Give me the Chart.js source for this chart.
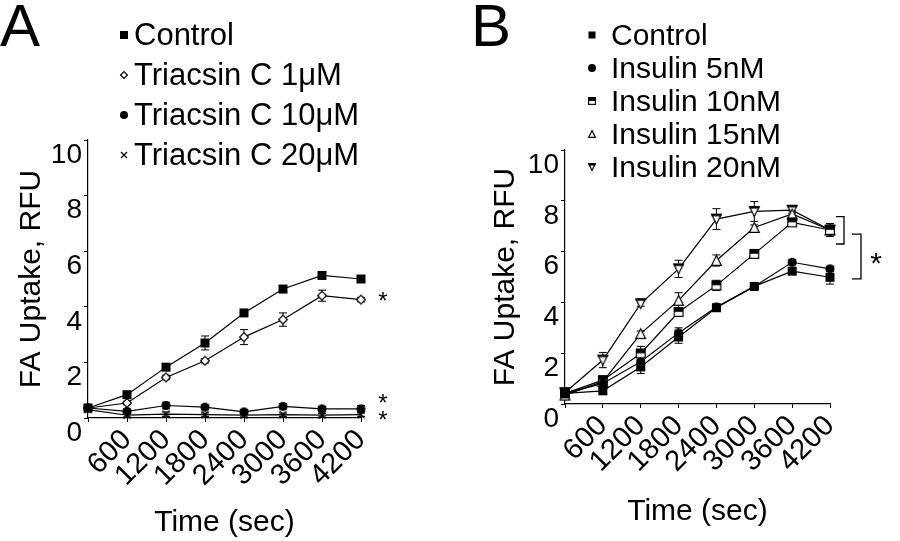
<!DOCTYPE html>
<html>
<head>
<meta charset="utf-8">
<script src="https://cdn.jsdelivr.net/npm/chart.js@4.4.1/dist/chart.umd.min.js"></script>
<style>
  html, body { margin: 0; padding: 0; background: #fff; }
  #wrap { position: relative; width: 900px; height: 541px; overflow: hidden; }
  canvas { position: absolute; top: 0; }
  #chartA { left: 0; }
  #chartB { left: 450px; }
</style>
</head>
<body>
<div id="wrap">
  <canvas id="chartA" width="450" height="541"></canvas>
  <canvas id="chartB" width="450" height="541"></canvas>
</div>
<script>
const FONT = "'Liberation Sans', Arial, sans-serif";

const timeLabels = ['0', '600', '1200', '1800', '2400', '3000', '3600', '4200'];
const xTitle = 'Time (sec)';
const yTitle = 'FA Uptake, RFU';

// panel A
const controlA = [0.36, 0.84, 1.83, 2.70, 3.78, 4.64, 5.13, 5.00];
const controlAErr = [0.06, 0.08, 0.10, 0.25, 0.10, 0.08, 0.10, 0.08];
const triacsin1 = [0.36, 0.54, 1.46, 2.06, 2.91, 3.54, 4.40, 4.26];
const triacsin1Err = [0.06, 0.06, 0.08, 0.08, 0.27, 0.24, 0.20, 0.08];
const triacsin10 = [0.36, 0.24, 0.45, 0.39, 0.22, 0.42, 0.33, 0.33];
const triacsin10Err = [0.08, 0.08, 0.12, 0.08, 0.08, 0.10, 0.08, 0.12];
const triacsin20 = [0.30, 0.10, 0.14, 0.12, 0.10, 0.12, 0.10, 0.12];
const triacsin20Err = [0.06, 0.06, 0.08, 0.06, 0.06, 0.06, 0.06, 0.06];

// panel B
const controlB = [0.42, 0.52, 1.46, 2.64, 3.79, 4.63, 5.23, 4.99];
const controlBErr = [0.10, 0.08, 0.26, 0.25, 0.12, 0.08, 0.10, 0.27];
const insulin5 = [0.42, 0.81, 1.66, 2.80, 3.82, 4.63, 5.58, 5.32];
const insulin5Err = [0.10, 0.10, 0.10, 0.20, 0.10, 0.08, 0.10, 0.10];
const insulin10 = [0.42, 0.94, 1.99, 3.62, 4.67, 5.91, 7.15, 6.85];
const insulin10Err = [0.10, 0.15, 0.28, 0.15, 0.20, 0.10, 0.12, 0.25];
const insulin15 = [0.35, 0.88, 2.77, 4.08, 5.65, 6.95, 7.48, 6.85];
const insulin15Err = [0.10, 0.15, 0.10, 0.30, 0.22, 0.10, 0.12, 0.25];
const insulin20 = [0.45, 1.73, 3.95, 5.32, 7.28, 7.58, 7.63, 6.85];
const insulin20Err = [0.10, 0.30, 0.10, 0.34, 0.41, 0.39, 0.12, 0.25];

Chart.defaults.font.family = FONT;
Chart.defaults.color = '#000';

// small canvases used as point styles
function marker(kind, s) {
  const pad = 2;
  const c = document.createElement('canvas');
  c.width = c.height = s + pad * 2;
  const g = c.getContext('2d');
  g.translate(pad, pad);
  g.lineWidth = 1.2;
  g.strokeStyle = '#000';
  g.fillStyle = '#000';
  const h = s / 2, e = 0.6;
  if (kind === 'square') {
    g.fillRect(0, 0, s, s);
  } else if (kind === 'circle') {
    g.beginPath(); g.arc(h, h, h, 0, Math.PI * 2); g.fill();
  } else if (kind === 'diamond') {
    g.beginPath(); g.moveTo(h, e); g.lineTo(s - e, h); g.lineTo(h, s - e); g.lineTo(e, h); g.closePath();
    g.fillStyle = '#fff'; g.fill(); g.stroke();
  } else if (kind === 'cross') {
    g.beginPath(); g.moveTo(0, 0); g.lineTo(s, s); g.moveTo(s, 0); g.lineTo(0, s); g.stroke();
  } else if (kind === 'halfSquare') {
    g.fillStyle = '#fff'; g.fillRect(e, e, s - 2 * e, s - 2 * e);
    g.fillStyle = '#000'; g.fillRect(e, e, s - 2 * e, s * 0.42);
    g.strokeRect(e, e, s - 2 * e, s - 2 * e);
  } else if (kind === 'triUp') {
    g.beginPath(); g.moveTo(h, e); g.lineTo(s - e, s - e); g.lineTo(e, s - e); g.closePath();
    g.fillStyle = '#fff'; g.fill(); g.stroke();
  } else if (kind === 'triDown') {
    g.beginPath(); g.moveTo(e, e); g.lineTo(s - e, e); g.lineTo(h, s - e); g.closePath();
    g.fillStyle = '#fff'; g.fill(); g.stroke();
    g.fillStyle = '#000'; g.fillRect(e, e, s - 2 * e, 2);
  }
  return c;
}

function series(label, data, errors, kind, size, legendSize) {
  return {
    label, data, errors,
    borderColor: '#000', borderWidth: 1.2, tension: 0, fill: false, clip: false,
    pointStyle: marker(kind, size), pointRadius: 5, pointBorderWidth: 0,
    legendStyle: marker(kind, legendSize)
  };
}

const errorBars = {
  id: 'errorBars',
  beforeDatasetsDraw(chart) {
    const ctx = chart.ctx, y = chart.scales.y;
    ctx.save();
    ctx.strokeStyle = '#000';
    ctx.lineWidth = 1;
    chart.data.datasets.forEach((ds, i) => {
      const meta = chart.getDatasetMeta(i);
      ds.errors.forEach((err, j) => {
        const px = meta.data[j].x;
        const t = y.getPixelForValue(ds.data[j] + err), b = y.getPixelForValue(ds.data[j] - err);
        ctx.beginPath();
        ctx.moveTo(px, t); ctx.lineTo(px, b);
        ctx.moveTo(px - 4, t); ctx.lineTo(px + 4, t);
        ctx.moveTo(px - 4, b); ctx.lineTo(px + 4, b);
        ctx.stroke();
      });
    });
    ctx.restore();
  }
};

const figureMarks = {
  id: 'figureMarks',
  afterDraw(chart, args, o) {
    const ctx = chart.ctx, xs = chart.scales.x, ys = chart.scales.y;
    ctx.save();
    ctx.fillStyle = '#000';
    ctx.strokeStyle = '#000';
    ctx.textAlign = 'left';
    ctx.textBaseline = 'alphabetic';
    // legend
    ctx.font = o.legendSize + 'px ' + FONT;
    chart.data.datasets.forEach((ds, i) => {
      const base = o.legendTop + i * o.legendGap;
      const img = ds.legendStyle;
      ctx.drawImage(img, o.markerX - img.width / 2, base - o.markerLift - img.height / 2);
      ctx.fillText(ds.label, o.textX, base);
    });
    // panel letter
    ctx.font = '60px ' + FONT;
    ctx.fillText(o.letter, o.letterX, 46);
    // significance marks
    const xEnd = xs.getPixelForValue(timeLabels.length - 1);
    ctx.textAlign = 'center';
    ctx.font = o.starSize + 'px ' + FONT;
    o.stars.forEach(s => {
      ctx.fillText('*', xEnd + s.dx, ys.getPixelForValue(s.v) + o.starSize * 0.57);
    });
    ctx.lineWidth = 1.3;
    o.brackets.forEach(b => {
      const y0 = ys.getPixelForValue(b.v0), y1 = ys.getPixelForValue(b.v1);
      ctx.beginPath();
      ctx.moveTo(xEnd + b.dx0, y0); ctx.lineTo(xEnd + b.dx1, y0);
      ctx.lineTo(xEnd + b.dx1, y1); ctx.lineTo(xEnd + b.dx0, y1);
      ctx.stroke();
    });
    ctx.restore();
  }
};

function makePanel(id, datasets, lay, marks) {
  return new Chart(document.getElementById(id), {
    type: 'line',
    data: { labels: timeLabels, datasets },
    plugins: [errorBars, figureMarks],
    options: {
      responsive: false,
      animation: false,
      events: [],
      layout: { padding: lay.padding },
      plugins: {
        legend: { display: false },
        tooltip: { enabled: false },
        figureMarks: marks
      },
      scales: {
        x: {
          type: 'category',
          offset: false,
          grid: { drawOnChartArea: false, drawTicks: true, tickLength: 4, color: '#000', offset: false },
          border: { display: true, color: '#000', width: 1.2 },
          ticks: {
            autoSkip: false, minRotation: 45, maxRotation: 45, padding: 1,
            font: { size: 29 },
            callback: (v, i) => (i === 0 ? '' : timeLabels[i])
          },
          title: { display: true, text: xTitle, font: { size: 30 }, padding: { top: 0, bottom: 0 } },
          afterFit: s => { s.height = lay.xHeight; }
        },
        y: {
          min: 0, max: 10,
          grid: { drawOnChartArea: false, drawTicks: true, tickLength: 4, color: '#000' },
          border: { display: true, color: '#000', width: 1.2 },
          ticks: { stepSize: 2, padding: 2, labelOffset: 15, font: { size: 28 } },
          title: { display: true, text: yTitle, font: { size: 30 }, padding: { top: lay.yTitlePad, bottom: 0 } },
          afterFit: s => { s.width = lay.yWidth; }
        }
      }
    }
  });
}

makePanel('chartA', [
  series('Control', controlA, controlAErr, 'square', 9, 8),
  series('Triacsin C 1\u03BCM', triacsin1, triacsin1Err, 'diamond', 10, 8),
  series('Triacsin C 10\u03BCM', triacsin10, triacsin10Err, 'circle', 9, 8),
  series('Triacsin C 20\u03BCM', triacsin20, triacsin20Err, 'cross', 7, 6)
], {
  padding: { left: 0, top: 140, right: 89, bottom: 0 },
  xHeight: 123, yWidth: 88, yTitlePad: 14
}, {
  legendTop: 45, legendGap: 40, legendSize: 31, markerX: 124, markerLift: 10, textX: 134,
  letter: 'A', letterX: 0,
  starSize: 24,
  stars: [{ dx: 22, v: 4.43 }, { dx: 22, v: 0.73 }, { dx: 22, v: 0.15 }],
  brackets: []
});

makePanel('chartB', [
  series('Control', controlB, controlBErr, 'square', 9, 7),
  series('Insulin 5nM', insulin5, insulin5Err, 'circle', 9, 8),
  series('Insulin 10nM', insulin10, insulin10Err, 'halfSquare', 10, 8),
  series('Insulin 15nM', insulin15, insulin15Err, 'triUp', 11, 8),
  series('Insulin 20nM', insulin20, insulin20Err, 'triDown', 11, 8)
], {
  padding: { left: 0, top: 150, right: 70, bottom: 11 },
  xHeight: 126, yWidth: 115, yTitlePad: 38
}, {
  legendTop: 45, legendGap: 33, legendSize: 30, markerX: 142, markerLift: 10, textX: 161,
  letter: 'B', letterX: 21,
  starSize: 30,
  stars: [{ dx: 46, v: 5.84 }],
  brackets: [{ dx0: 6, dx1: 14, v0: 7.38, v1: 6.30 }, { dx0: 22, dx1: 31, v0: 6.69, v1: 4.93 }]
});
</script>
</body>
</html>
